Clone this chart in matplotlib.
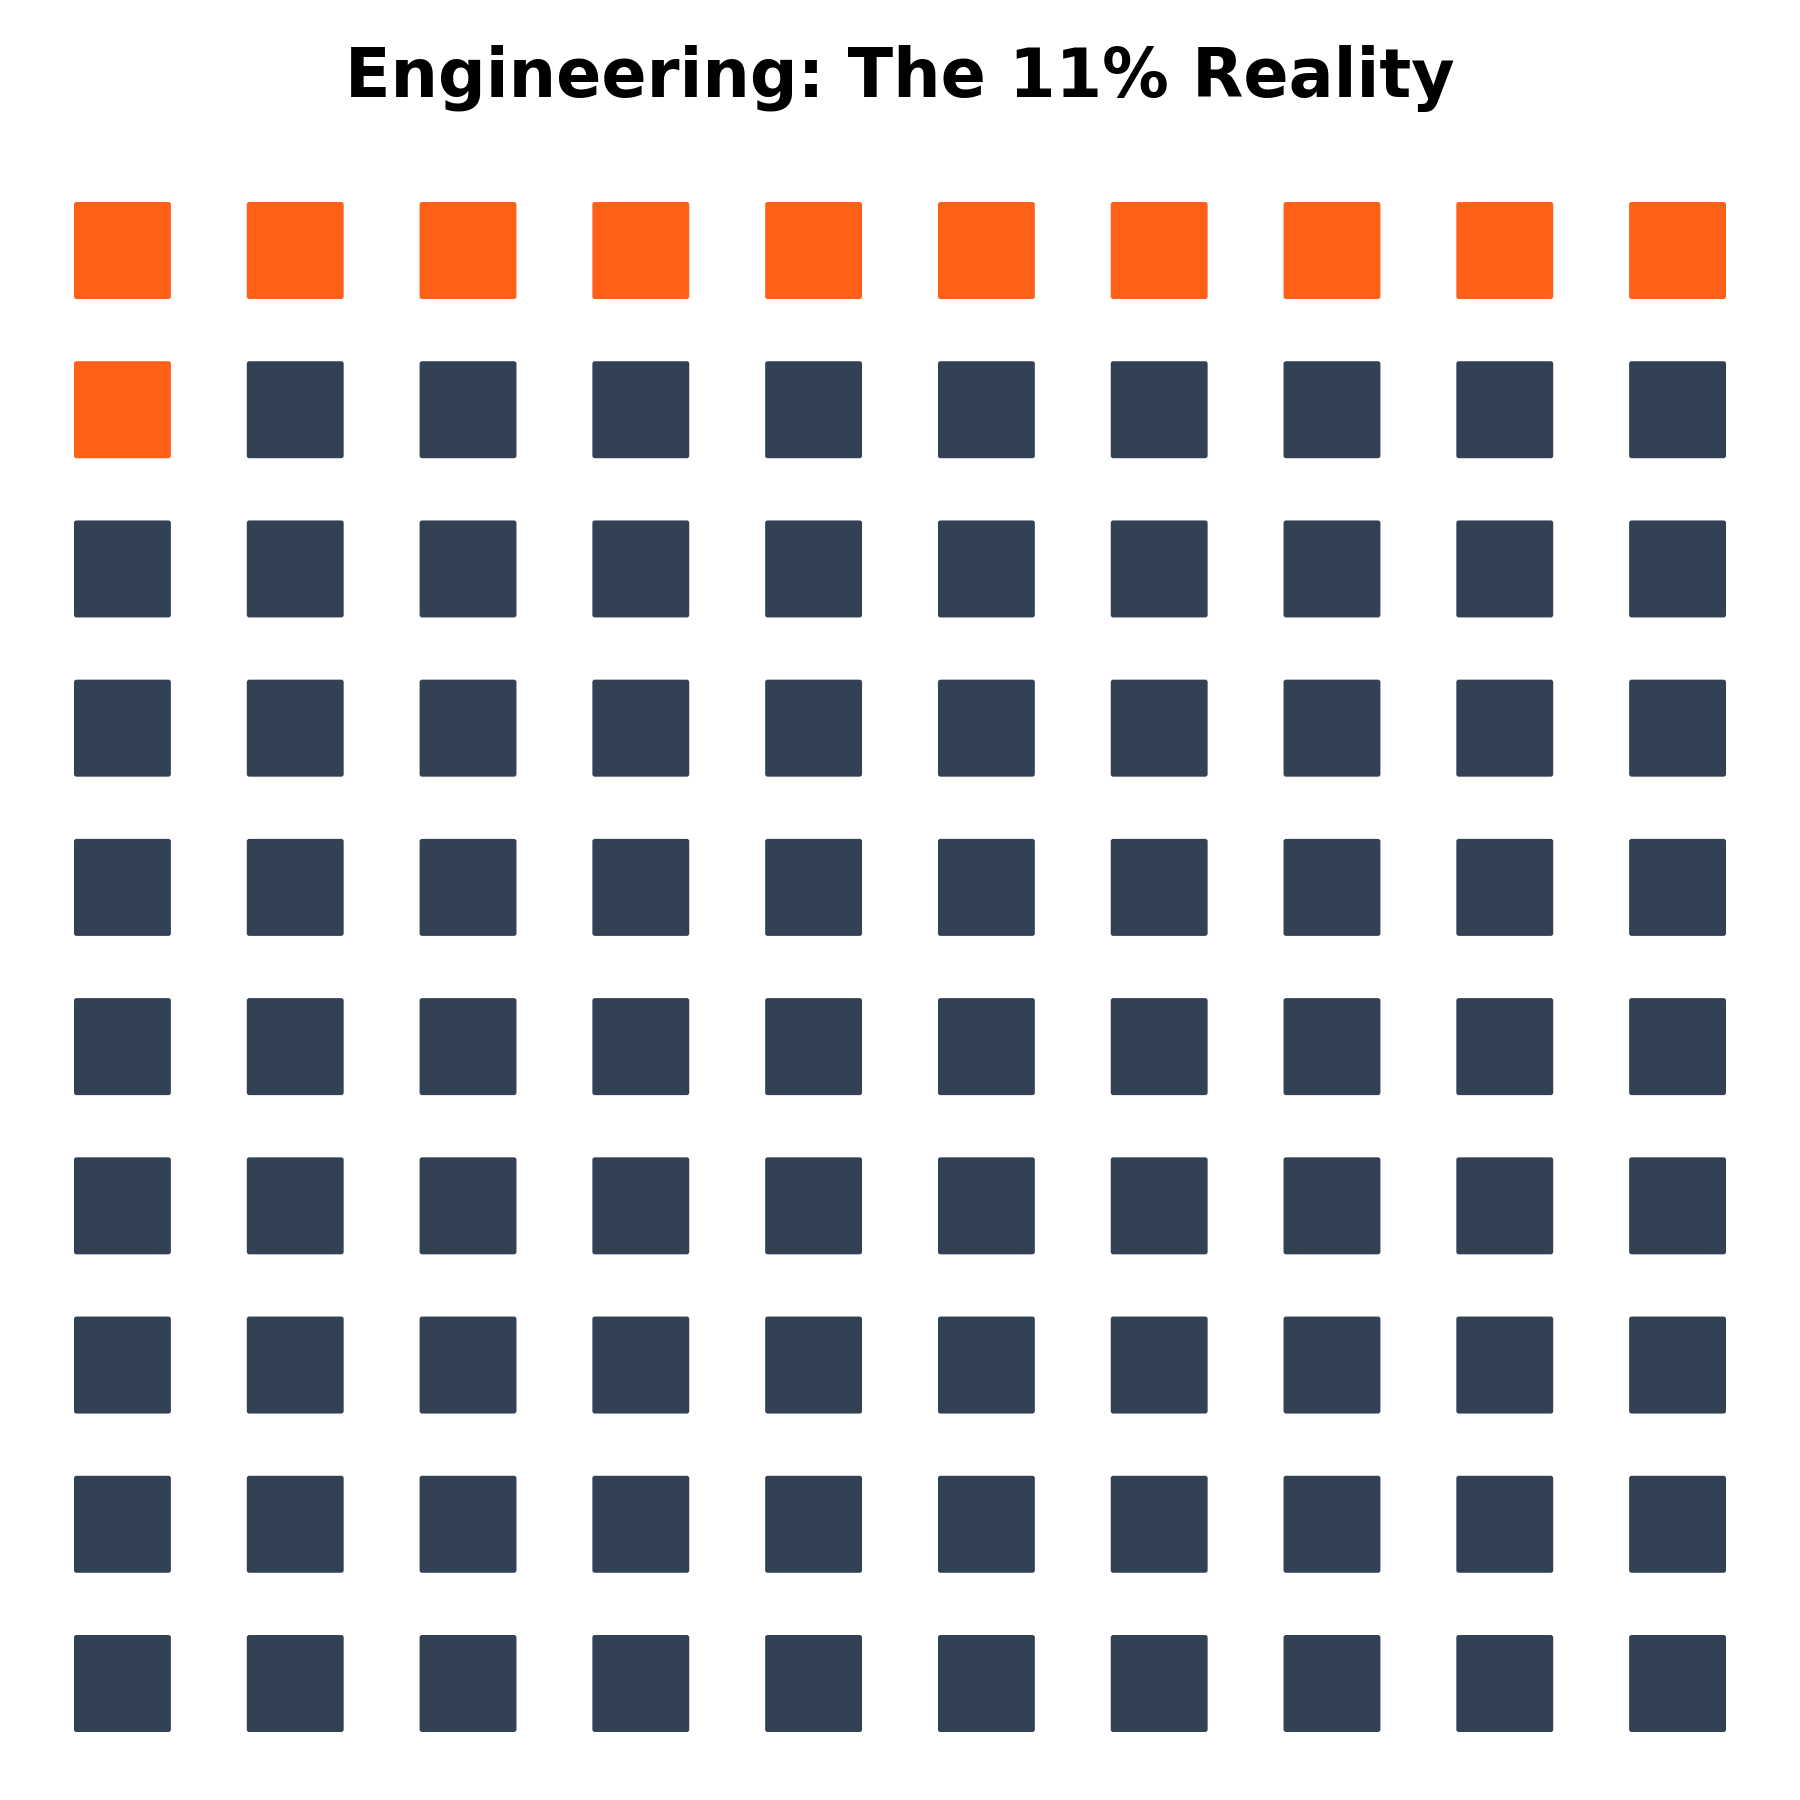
import matplotlib
matplotlib.use("Agg")
import matplotlib.pyplot as plt
from matplotlib.patches import FancyBboxPatch

title = "Engineering: The 11% Reality"
n_rows = 10
n_cols = 10
highlight_count = 11
total = 100
highlight_color = "#FF5F17"
base_color = "#334155"

fig = plt.figure(figsize=(9, 9), dpi=200)
W = H = 1800
left, right, top, bottom = 74, 1726, 202, 1732
ax = fig.add_axes([left / W, 1 - bottom / H, (right - left) / W, (bottom - top) / H])
sw = 97 / 173.0   # square width in column units
sh = 97 / 159.2   # square height in row units
ax.set_xlim(0, n_cols - 1 + sw)
ax.set_ylim(n_rows - 1 + sh, 0)
ax.axis("off")

for k in range(total):
    r, c = divmod(k, n_cols)
    color = highlight_color if k < highlight_count else base_color
    p = FancyBboxPatch((c, r), sw, sh,
                       boxstyle="round,pad=0,rounding_size=0.015",
                       facecolor=color, edgecolor="none", linewidth=0)
    ax.add_patch(p)

fig.text(0.5, 1 - 97 / H, title, ha="center", va="baseline",
         fontsize=24, fontweight="bold", family="DejaVu Sans")

fig.savefig("out.png", dpi=200, facecolor="white")
